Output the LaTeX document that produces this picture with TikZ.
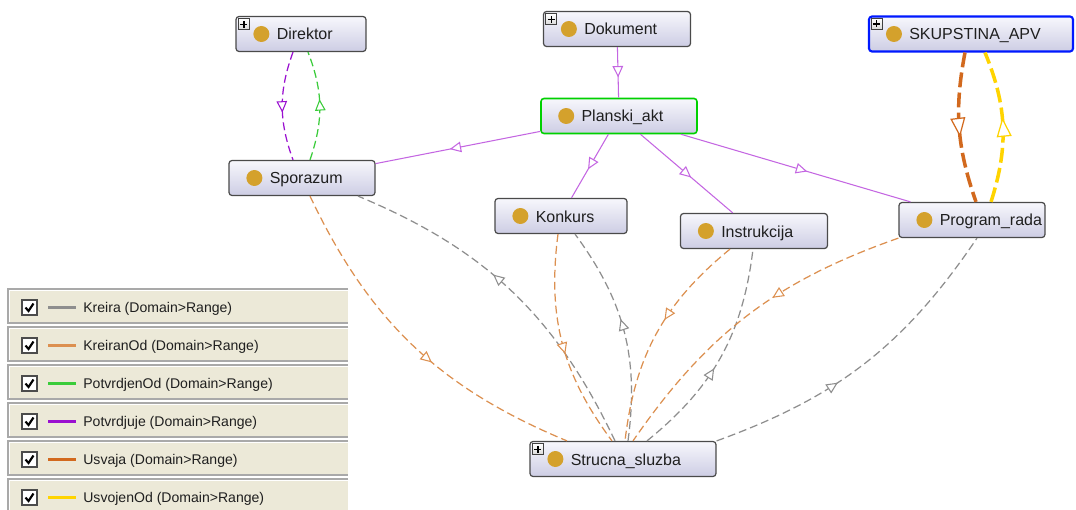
\documentclass[tikz,border=0pt]{standalone}
\usepackage{fontspec}
\setmainfont{Liberation Sans}
\usetikzlibrary{arrows.meta,decorations.markings}

\definecolor{kreira}{HTML}{8E8E8E}
\definecolor{kreiranod}{HTML}{DC9050}
\definecolor{potvrdjenod}{HTML}{3ACC3A}
\definecolor{potvrdjuje}{HTML}{9A10D0}
\definecolor{usvaja}{HTML}{D2691E}
\definecolor{usvojenod}{HTML}{FFD400}
\definecolor{subclass}{HTML}{C466E2}
\definecolor{dotgold}{HTML}{D4A12C}
\definecolor{clstop}{HTML}{F7F7FC}
\definecolor{clsbot}{HTML}{CDCDE4}
\definecolor{clsedge}{HTML}{4A4A4A}
\definecolor{legbg}{HTML}{ECE9D8}
\definecolor{legedge}{HTML}{A9A9A9}

\tikzset{
  cls/.style={draw=clsedge, line width=0.7pt, rounded corners=1.7pt,
    top color=clstop, bottom color=clsbot, minimum height=0.7cm, inner sep=0pt},
  lbl/.style={font=\fontsize{9.1}{11}\selectfont, text=black!88, inner sep=0pt},
  leglbl/.style={font=\fontsize{8}{10}\selectfont, text=black!88, inner sep=0pt},
  plusframe/.style={draw=black!75, line width=0.5pt, top color=white, bottom color=black!15},
  subcls/.style={draw=subclass, line width=0.6pt},
  link/.style={line width=0.7pt, dash pattern=on 4.5pt off 2.3pt},
  thick link/.style={line width=2pt, dash pattern=on 8.5pt off 3pt},
  midtip/.style={postaction={decorate}, decoration={markings,
    mark=at position #1 with {\arrow{Triangle[length=6.5pt, width=6pt, fill=white, line width=0.6pt]}}}},
  bigtip/.style={postaction={decorate}, decoration={markings,
    mark=at position #1 with {\arrow{Triangle[length=11pt, width=8.5pt, fill=white, line width=0.7pt]}}}},
}

% class box: gold dot and name on the left
\newcommand\owlclass[5][]{%
  \node[cls, minimum width=#4, #1] (#2) at #3 {};
  \fill[dotgold] ([xshift=0.52cm]#2.west) circle (0.16cm);
  \node[lbl, anchor=base west] (#2-txt) at ([shift={(41,6)}]#2.west) {#5};
}
% small expand box in the upper left corner
\newcommand\plusbox[1]{%
  \draw[plusframe] ([shift={(3,3)}]#1.north west) rectangle +(11,11);
  \draw[line width=0.8pt] ([shift={(5,8.5)}]#1.north west) -- +(7,0)
    ([shift={(8.5,5)}]#1.north west) -- +(0,7);
}

\begin{document}
\begin{tikzpicture}[x=0.02cm, y=-0.02cm]
\fill[white] (0,0) rectangle (1076,510);
\useasboundingbox (0,0) rectangle (1076,510);
\clip (0,0) rectangle (1076,510);

% classes
\owlclass{Direktor}{(301,34)}{2.6cm}{Direktor}
\owlclass{Dokument}{(617,29)}{2.94cm}{Dokument}
\owlclass[draw=blue!90!cyan, line width=1.2pt]{SKUPSTINA_APV}{(971,34)}{4.08cm}{SKUPSTINA\_APV}
\owlclass[draw=green!70!black!60!green, line width=0.9pt]{Planski_akt}{(619,116)}{3.12cm}{Planski\_akt}
\owlclass{Sporazum}{(302,178)}{2.92cm}{Sporazum}
\owlclass{Konkurs}{(561,216)}{2.64cm}{Konkurs}
\owlclass{Instrukcija}{(754,231)}{2.94cm}{Instrukcija}
\owlclass{Program_rada}{(972,220)}{2.92cm}{Program\_rada}
\owlclass{Strucna_sluzba}{(623,459)}{3.72cm}{Strucna\_sluzba}
\foreach \n in {Direktor,Dokument,SKUPSTINA_APV,Strucna_sluzba} \plusbox{\n};

% subclass links
\draw[subcls, midtip=0.6] (Dokument) -- (Planski_akt);
\foreach \c in {Sporazum,Konkurs,Instrukcija,Program_rada}
  \draw[subcls, midtip=0.55] (Planski_akt) -- (\c);

% Potvrdjuje / PotvrdjenOd
\draw[link, potvrdjuje, midtip=0.56] ([shift={(-8,0)}]Direktor.south) to[bend right=20] ([shift={(-9,0)}]Sporazum.north);
\draw[link, potvrdjenod, midtip=0.56] ([shift={(8,0)}]Sporazum.north) to[bend right=20] ([shift={(7,0)}]Direktor.south);

% Usvaja / UsvojenOd
\draw[thick link, usvaja, bigtip=0.56] ([shift={(-6,0)}]SKUPSTINA_APV.south) to[bend right=15] ([shift={(4,0)}]Program_rada.north);
\draw[thick link, usvojenod, bigtip=0.56] ([shift={(19,0)}]Program_rada.north) to[bend right=20] ([shift={(14,0)}]SKUPSTINA_APV.south);

% KreiranOd / Kreira
\draw[link, kreiranod, midtip=0.57] ([shift={(8,0)}]Sporazum.south) to[bend right=21] ([shift={(-56,0)}]Strucna_sluzba.north);
\draw[link, kreira, midtip=0.57] ([shift={(-8,0)}]Strucna_sluzba.north) to[bend right=21] ([shift={(56,0)}]Sporazum.south);
\draw[link, kreiranod, midtip=0.55] ([shift={(-3,0)}]Konkurs.south) to[bend right=22] ([shift={(-11,0)}]Strucna_sluzba.north);
\draw[link, kreira, midtip=0.56] ([shift={(5,0)}]Strucna_sluzba.north) to[bend right=22] ([shift={(14,0)}]Konkurs.south);
\draw[link, kreiranod, midtip=0.43] ([shift={(-24,0)}]Instrukcija.south) to[bend right=22] ([shift={(2,0)}]Strucna_sluzba.north);
\draw[link, kreira, midtip=0.44] ([shift={(24,0)}]Strucna_sluzba.north) to[bend right=22] ([shift={(-1,0)}]Instrukcija.south);
\draw[link, kreiranod, midtip=0.41] (Program_rada.south west) to[bend right=18] ([shift={(10,0)}]Strucna_sluzba.north);
\draw[link, kreira, midtip=0.40] (Strucna_sluzba.north east) to[bend right=18] ([shift={(5,0)}]Program_rada.south);

% legend
\foreach \name/\col [count=\i from 0] in {Kreira/kreira, KreiranOd/kreiranod, PotvrdjenOd/potvrdjenod,
    Potvrdjuje/potvrdjuje, Usvaja/usvaja, UsvojenOd/usvojenod}{
  \pgfmathsetmacro\ty{289+38*\i}
  \fill[legbg] (8,\ty) rectangle (348,{\ty+34});
  \draw[legedge, line width=0.6pt] (348,\ty) -- (8,\ty) -- (8,{\ty+34}) -- (348,{\ty+34});
  \draw[white, line width=0.6pt] (348,{\ty+1.5}) -- (9.5,{\ty+1.5}) -- (9.5,{\ty+33});
  \draw[fill=white, draw=black!70, line width=0.6pt] (22,{\ty+11}) rectangle +(15,15);
  \draw[line width=1.2pt] (25.5,{\ty+18.5}) -- (28.5,{\ty+22}) -- (33.5,{\ty+14.5});
  \draw[draw=\col, line width=1.7pt] (48,{\ty+18.5}) -- (76,{\ty+18.5});
  \node[leglbl, anchor=base west] (leg\i) at (83,{\ty+23.5}) {\name{} (Domain>Range)};
}
\end{tikzpicture}
\end{document}
